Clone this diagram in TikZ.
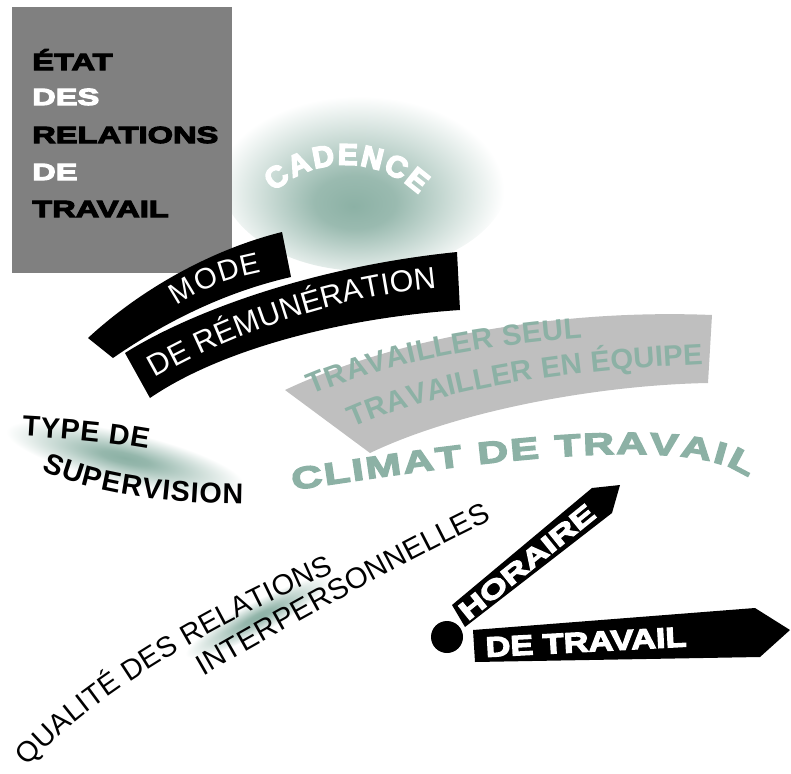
\documentclass[tikz,border=0pt]{standalone}
\usepackage{fontspec}
\setmainfont{Liberation Sans}
\newfontfamily\heavyfont{Liberation Sans}[BoldFeatures={FakeBold=5}]
\newfontfamily\widefont{Liberation Sans}[FakeStretch=1.4, BoldFeatures={FakeBold=5}]
\usepackage{tikz}
\usetikzlibrary{decorations.text}

\definecolor{sauge}{RGB}{140,177,165}
\definecolor{ardoise}{RGB}{128,128,128}
\definecolor{perle}{RGB}{191,191,191}
\pgfdeclareradialshading{halo}{\pgfpoint{0bp}{0bp}}{color(0bp)=(sauge); color(5bp)=(sauge!92!white); color(25bp)=(white); color(50bp)=(white)}
\pgfdeclareradialshading{halobas}{\pgfpoint{-2bp}{-8bp}}{color(0bp)=(sauge); color(7bp)=(sauge!88!white); color(25bp)=(white); color(50bp)=(white)}

\newcommand\lourd[1]{\heavyfont\bfseries\fontsize{#1}{#1}\selectfont}
\newcommand\etire[1]{\widefont\bfseries\fontsize{#1}{#1}\selectfont}
\newcommand\fin[1]{\fontsize{#1}{#1}\selectfont}
\newcommand\gras[1]{\bfseries\fontsize{#1}{#1}\selectfont}

\begin{document}
\begin{tikzpicture}[x=0.3mm, y=0.3mm,
  courbe/.style={decorate, decoration={text along path, text align=fit to path, text={#1}}},
  bande/.style={fill=black},
  titre/.style={anchor=base west, inner sep=0pt, font=\etire{19.9}},
  fleche/.style={text=white, inner sep=0pt}]
\useasboundingbox (0,0) rectangle (791,-774);

% halos
\shade[shading=halobas] (365,-176) ellipse [x radius=145, y radius=95];
\shade[shading=halo, transform canvas={shift={(125,-458)}, rotate=-13}] (0,0) ellipse [x radius=122, y radius=26];
\shade[shading=halo, transform canvas={shift={(258,-617)}, rotate=28}] (0,0) ellipse [x radius=82, y radius=16];

% encadre
\fill[ardoise] (12,-7) rectangle (232,-273);
\node[titre] (etat) at (32,-70) {ÉTAT};
\node[titre, text=white] (des) at (32,-105) {DES};
\node[titre] (relations) at (32,-143) {RELATIONS};
\node[titre, text=white] (de) at (32,-180) {DE};
\node[titre] (travail) at (32,-217) {TRAVAIL};

% bandes
\fill[bande] (88,-338) .. controls (140,-290) and (210,-250) .. (282,-232) -- (291,-277) .. controls (225,-292) and (165,-322) .. (113,-358) -- cycle;
\fill[bande] (125,-353) .. controls (180,-318) and (300,-268) .. (457,-252) -- (460,-310) .. controls (340,-318) and (220,-350) .. (150,-398) -- cycle;
\fill[perle] (285,-390) .. controls (380,-345) and (540,-308) .. (712,-315) -- (708,-383) .. controls (600,-385) and (460,-410) .. (370,-453) -- cycle;

\path[courbe={|\lourd{25.5}\color{white}|CADENCE}] (274,-192) arc[start angle=132, end angle=46, radius=106];
\path[courbe={|\fin{25}\color{white}|MODE}] (177,-306) .. controls (205,-287) and (232,-278) .. (262,-272);
\path[courbe={|\fin{26}\color{white}|DE RÉMUNÉRATION}] (155,-378) .. controls (230,-335) and (330,-298) .. (434,-288);
\path[courbe={|\gras{25}\color{sauge}|TRAVAILLER SEUL}] (312,-395) .. controls (390,-362) and (490,-345) .. (582,-338);
\path[courbe={|\gras{25}\color{sauge}|TRAVAILLER EN ÉQUIPE}] (353,-428) .. controls (450,-385) and (580,-370) .. (703,-364);
\path[courbe={|\gras{24.5}|TYPE DE}] (22,-436) .. controls (60,-438) and (110,-442) .. (148,-449);
\path[courbe={|\gras{24.5}|SUPERVISION}] (42,-470) .. controls (80,-488) and (140,-503) .. (243,-504);
\path[courbe={|\etire{26}\color{sauge}|CLIMAT DE TRAVAIL}] (293,-490) .. controls (440,-468) and (690,-428) .. (748,-478);
\path[courbe={|\fin{24.5}|QUALITÉ DES RELATIONS}] (28,-767) .. controls (92,-692) and (240,-612) .. (334,-573);
\path[courbe={|\fin{25}|INTERPERSONNELLES}] (203,-676) .. controls (300,-620) and (400,-565) .. (492,-520);

% horaire de travail
\fill[bande] (452,-605) -- (592,-488) -- (620,-485) -- (612,-513) -- (465,-627) -- cycle;
\node[fleche, rotate=39, font=\etire{22}] (horaire) at (527,-562) {HORAIRE};
\fill (447,-637) circle [radius=16];
\fill[bande] (473,-630) -- (755,-608) -- (790,-630) -- (760,-657) -- (475,-662) -- cycle;
\node[fleche, rotate=3, xscale=0.88, font=\etire{23.8}] (detravail) at (586,-642) {DE TRAVAIL};

\end{tikzpicture}
\end{document}
